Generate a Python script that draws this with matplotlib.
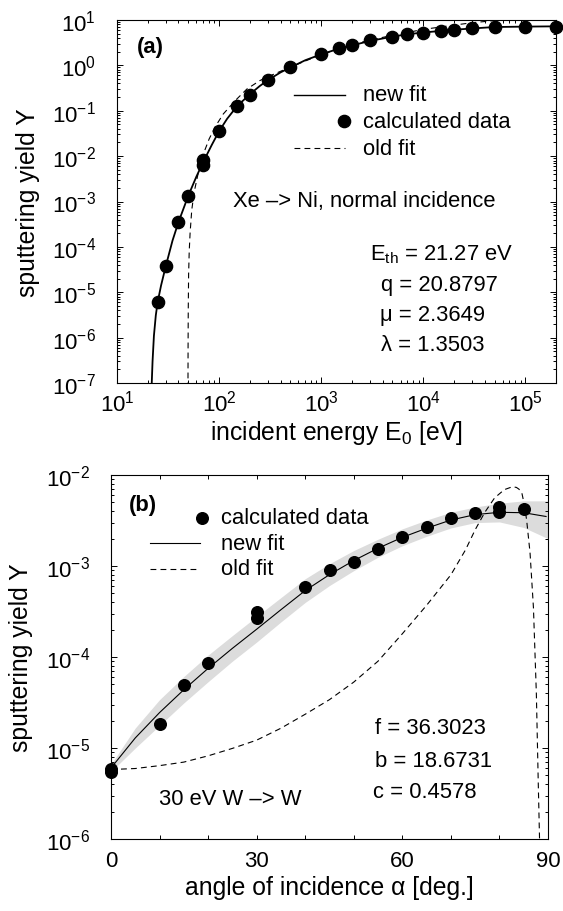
import matplotlib
matplotlib.use("Agg")
import matplotlib.pyplot as plt
from matplotlib.ticker import LogLocator, NullFormatter, FuncFormatter, FixedLocator, MultipleLocator
import numpy as np

plt.rcParams.update({
    'font.family': ['Liberation Sans', 'DejaVu Sans'],
    'mathtext.fontset': 'custom',
    'mathtext.rm': 'Liberation Sans',
    'mathtext.it': 'Liberation Sans:italic',
    'mathtext.bf': 'Liberation Sans:bold',
    'lines.scale_dashes': False,
})

# ---------------- panel (a): Xe -> Ni, normal incidence ----------------
E_data = [25, 30, 40, 50, 70, 70, 100, 150, 200, 300, 500, 1000, 1500, 2000,
          3000, 5000, 7000, 10000, 15000, 20000, 30000, 50000, 100000, 200000]
Y_data = [6.0e-6, 3.7e-5, 3.5e-4, 1.35e-3, 8.3e-3, 6.3e-3, 0.035, 0.125, 0.225,
          0.47, 0.9, 1.75, 2.45, 2.75, 3.6, 4.3, 4.9, 5.3, 5.8, 6.1, 6.6, 7.0,
          7.1, 7.0]

E_new = [21.6, 21.9, 22.3, 23, 24, 25, 27, 30, 35, 40, 50, 60, 70, 85, 100, 120,
         150, 200, 250, 300, 400, 500, 700, 1000, 1500, 2000, 3000, 5000, 7000,
         1e4, 2e4, 3e4, 5e4, 1e5, 2e5]
Y_new = [3e-8, 1e-7, 3e-7, 1.1e-6, 3.1e-6, 6.0e-6, 1.4e-5, 3.7e-5, 1.38e-4,
         3.5e-4, 1.35e-3, 3.55e-3, 7.45e-3, 1.78e-2, 3.53e-2, 6.67e-2, 0.126,
         0.23, 0.35, 0.47, 0.70, 0.90, 1.30, 1.75, 2.34, 2.75, 3.45, 4.3, 4.85,
         5.3, 6.1, 6.5, 7.0, 7.15, 7.25]

E_old = [49.55, 49.6, 49.7, 49.9, 50.3, 51, 52, 54, 57, 61, 65, 70, 80, 92, 110,
         145, 187, 250, 300, 400, 500, 700, 1000, 2000, 3000, 5000, 7000, 1e4,
         2e4, 3e4, 5e4, 6e4, 1e5, 2e5]
Y_old = [1e-8, 1e-7, 6e-7, 4e-6, 2.5e-5, 8e-5, 2e-4, 6.5e-4, 1.6e-3, 3.3e-3,
         6.3e-3, 0.011, 0.024, 0.045, 0.085, 0.17, 0.30, 0.46, 0.56, 0.74, 0.92,
         1.25, 1.72, 2.85, 3.6, 4.6, 5.3, 6.2, 7.7, 8.7, 9.7, 10.0, 11.0, 12.5]

legend_a = ['new fit', 'calculated data', 'old fit']
params_a = [r'E$_{\mathrm{th}}$ = 21.27 eV', 'q = 20.8797', 'μ = 2.3649', 'λ = 1.3503']
title_a = 'Xe –> Ni, normal incidence'

# ---------------- panel (b): 30 eV W -> W ----------------
alpha_data = [0, 0, 10, 15, 20, 30, 30, 40, 45, 50, 55, 60, 65, 70, 75, 80, 80, 85]
Yb_data = [5.4e-6, 5.9e-6, 1.83e-5, 4.95e-5, 8.55e-5, 3.1e-4, 2.65e-4, 5.9e-4,
           8.97e-4, 1.11e-3, 1.53e-3, 2.1e-3, 2.65e-3, 3.4e-3, 3.85e-3, 4.5e-3,
           3.95e-3, 4.25e-3]

alpha_new = [0, 5, 10, 15, 20, 25, 30, 35, 40, 45, 50, 55, 60, 65, 70, 75, 80, 85, 89.6]
Yb_new = [6.03e-6, 1.29e-5, 2.45e-5, 4.37e-5, 7.5e-5, 1.245e-4, 2.02e-4, 3.31e-4,
          5.37e-4, 8.04e-4, 1.148e-3, 1.567e-3, 2.065e-3, 2.6e-3, 3.2e-3, 3.67e-3,
          3.89e-3, 3.85e-3, 3.5e-3]
# grey uncertainty band (upper / lower bounds)
alpha_band = [0, 5, 10, 15, 20, 25, 30, 35, 40, 45, 50, 55, 60, 65, 70, 75, 80, 85, 90]
Yb_band_hi = [6.6e-6, 1.66e-5, 3.4e-5, 6.1e-5, 1.05e-4, 1.72e-4, 2.79e-4, 4.5e-4,
              7.25e-4, 1.06e-3, 1.48e-3, 1.97e-3, 2.56e-3, 3.2e-3, 3.9e-3, 4.45e-3,
              4.9e-3, 5.2e-3, 5.2e-3]
Yb_band_lo = [5.5e-6, 1.0e-5, 1.77e-5, 3.13e-5, 5.35e-5, 9.0e-5, 1.46e-4, 2.43e-4,
              3.98e-4, 6.1e-4, 8.9e-4, 1.25e-3, 1.67e-3, 2.12e-3, 2.62e-3, 3.0e-3,
              3.05e-3, 2.65e-3, 2.0e-3]

alpha_old = [0, 5, 10, 15, 20, 25, 30, 35, 40, 45, 50, 55, 60, 65, 70, 73, 75, 77,
             79, 81, 82.7, 83.5, 84, 84.6, 85.1, 85.6, 86.3, 87, 87.6, 88.0, 88.3, 88.6]
Yb_old = [5.8e-6, 5.95e-6, 6.4e-6, 7.0e-6, 8.2e-6, 9.9e-6, 1.22e-5, 1.65e-5,
          2.35e-5, 3.4e-5, 5.3e-5, 9.0e-5, 1.8e-4, 3.7e-4, 8.0e-4, 1.5e-3,
          2.5e-3, 3.9e-3, 5.6e-3, 6.9e-3, 7.44e-3, 7.3e-3, 7.0e-3, 6.4e-3, 4.8e-3,
          3.2e-3, 1.4e-3, 3.5e-4, 4e-5, 4e-6, 8e-7, 1e-7]

legend_b = ['calculated data', 'new fit', 'old fit']
params_b = ['f = 36.3023', 'b = 18.6731', 'c = 0.4578']
title_b = '30 eV W –> W'

# ---------------- figure ----------------
W, H = 563, 912
fig = plt.figure(figsize=(W / 100, H / 100), dpi=100)
axA = fig.add_axes([117 / W, 1 - 384 / H, 439 / W, 363 / H])
axB = fig.add_axes([111 / W, 1 - 840 / H, 437 / W, 364 / H])

TICK_FS = 16
LAB_FS = 17.8
TXT_FS = 15.8
MS = 8.8
DASH = (0, (4.2, 3.0))


def log_fmt(v, pos):
    e = int(round(np.log10(v)))
    return r'$10^{%d}$' % e


def style_axes(ax):
    for s in ax.spines.values():
        s.set_linewidth(0.8)
    ax.tick_params(which='both', direction='in', top=True, right=True,
                   width=0.7, labelsize=TICK_FS)
    ax.tick_params(which='major', length=4.0)
    ax.tick_params(which='minor', length=2.2)


# ---- panel a ----
axA.set_xscale('log')
axA.set_yscale('log')
axA.set_xlim(10, 2e5)
axA.set_ylim(1e-7, 1e1)
axA.plot(E_old, Y_old, color='black', lw=0.8, ls=DASH, zorder=2)
axA.plot(E_new, Y_new, color='black', lw=1.3, zorder=3)
axA.plot(E_data, Y_data, 'o', color='black', ms=MS, zorder=4, clip_on=False)

axA.xaxis.set_major_locator(LogLocator(base=10, numticks=20))
axA.yaxis.set_major_locator(LogLocator(base=10, numticks=20))
axA.xaxis.set_minor_locator(LogLocator(base=10, subs=np.arange(2, 10), numticks=100))
axA.yaxis.set_minor_locator(LogLocator(base=10, subs=np.arange(2, 10), numticks=100))
axA.xaxis.set_major_formatter(FuncFormatter(log_fmt))
axA.yaxis.set_major_formatter(FuncFormatter(log_fmt))
axA.xaxis.set_minor_formatter(NullFormatter())
axA.yaxis.set_minor_formatter(NullFormatter())
style_axes(axA)
axA.tick_params(axis='y', pad=15)
axA.tick_params(axis='x', pad=5)
axA.set_xlabel(r'incident energy E$_0$ [eV]', fontsize=LAB_FS)
axA.set_ylabel('sputtering yield Y', fontsize=LAB_FS)
axA.xaxis.set_label_coords(0.5, -0.096)
axA.yaxis.set_label_coords(-0.175, 0.5)

axA.text(0.046, 0.926, '(a)', transform=axA.transAxes, fontsize=TXT_FS,
         fontweight='bold', va='center', ha='left')
# legend (a)
rows_a = [0.794, 0.721, 0.647]
axA.plot([0.403, 0.519], [rows_a[0]] * 2, color='black', lw=1.0,
         transform=axA.transAxes)
axA.plot([0.517], [rows_a[1]], 'o', color='black', ms=MS, transform=axA.transAxes)
axA.plot([0.403, 0.519], [rows_a[2]] * 2, color='black', lw=0.8, ls=DASH,
         transform=axA.transAxes)
for lab, yy in zip(legend_a, rows_a):
    axA.text(0.560, yy, lab, transform=axA.transAxes, fontsize=TXT_FS,
             va='center', ha='left')
axA.text(0.264, 0.502, title_a, transform=axA.transAxes, fontsize=TXT_FS,
         va='center', ha='left')
for txt, xx, yy in zip(params_a, [0.576, 0.601, 0.599, 0.601],
                       [0.355, 0.271, 0.190, 0.107]):
    axA.text(xx, yy, txt, transform=axA.transAxes, fontsize=TXT_FS,
             va='center', ha='left')

# ---- panel b ----
axB.set_yscale('log')
axB.set_xlim(0, 90)
axB.set_ylim(1e-6, 1e-2)
axB.fill_between(alpha_band, Yb_band_lo, Yb_band_hi, color='#dcdcdc', lw=0, zorder=1)
axB.plot(alpha_old, Yb_old, color='black', lw=0.8, ls=DASH, zorder=2)
axB.plot(alpha_new, Yb_new, color='black', lw=0.8, zorder=3)
axB.plot(alpha_data, Yb_data, 'o', color='black', ms=MS * 0.95, zorder=4,
         clip_on=False)

axB.xaxis.set_major_locator(FixedLocator([0, 30, 60, 90]))
axB.xaxis.set_minor_locator(MultipleLocator(10))
axB.yaxis.set_major_locator(LogLocator(base=10, numticks=20))
axB.yaxis.set_minor_locator(LogLocator(base=10, subs=np.arange(2, 10), numticks=100))
axB.yaxis.set_major_formatter(FuncFormatter(log_fmt))
axB.yaxis.set_minor_formatter(NullFormatter())
style_axes(axB)
axB.tick_params(axis='x', which='both', length=3.0)
axB.tick_params(axis='y', pad=15)
axB.tick_params(axis='x', pad=8)
axB.set_xlabel('angle of incidence α [deg.]', fontsize=LAB_FS)
axB.set_ylabel('sputtering yield Y', fontsize=LAB_FS)
axB.xaxis.set_label_coords(0.5, -0.099)
axB.yaxis.set_label_coords(-0.178, 0.5)

axB.text(0.040, 0.920, '(b)', transform=axB.transAxes, fontsize=TXT_FS,
         fontweight='bold', va='center', ha='left')
rows_b = [0.882, 0.813, 0.742]
axB.plot([0.2075], [rows_b[0]], 'o', color='black', ms=MS * 0.95,
         transform=axB.transAxes)
axB.plot([0.089, 0.204], [rows_b[1]] * 2, color='black', lw=0.8,
         transform=axB.transAxes)
axB.plot([0.089, 0.204], [rows_b[2]] * 2, color='black', lw=0.8, ls=DASH,
         transform=axB.transAxes)
for lab, yy in zip(legend_b, rows_b):
    axB.text(0.252, yy, lab, transform=axB.transAxes, fontsize=TXT_FS,
             va='center', ha='left')
for txt, xx, yy in zip(params_b, [0.604, 0.604, 0.600], [0.305, 0.217, 0.130]):
    axB.text(xx, yy, txt, transform=axB.transAxes, fontsize=TXT_FS,
             va='center', ha='left')
axB.text(0.109, 0.110, title_b, transform=axB.transAxes, fontsize=TXT_FS,
         va='center', ha='left')

fig.savefig('out.png', dpi=100)
